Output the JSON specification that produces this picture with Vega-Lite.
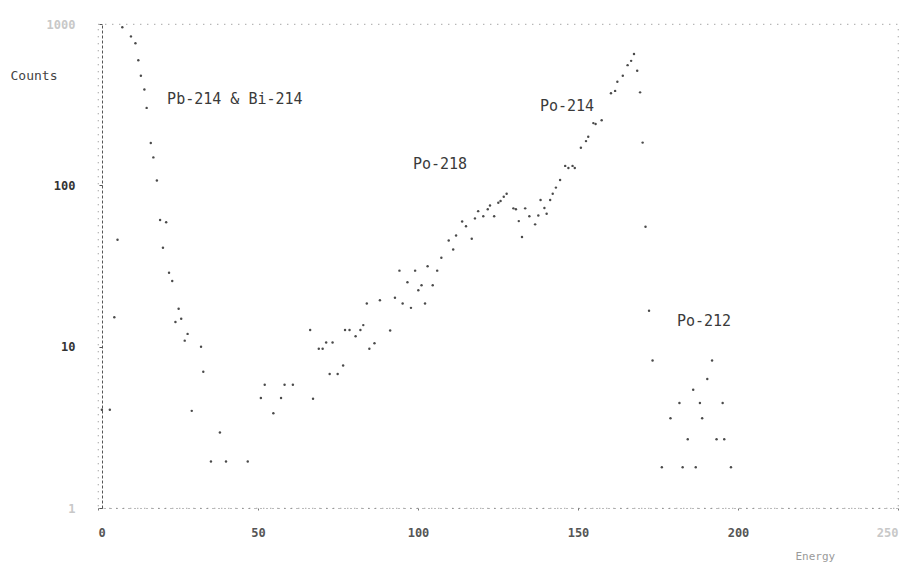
{
  "$schema": "https://vega.github.io/schema/vega-lite/v6.json",
  "width": 800,
  "height": 484,
  "autosize": {"type": "none"},
  "padding": {"left": 98, "top": 24, "right": 8, "bottom": 58},
  "background": "white",
  "config": {
    "view": {"stroke": "#9a9a9a", "strokeDash": [1, 6], "strokeWidth": 1.2},
    "font": "DejaVu Sans Mono"
  },
  "layer": [
    {
      "data": {
        "values": [
          {"energy": 7.6, "counts": 955}, {"energy": 10.3, "counts": 838}, {"energy": 11.7, "counts": 759},
          {"energy": 12.6, "counts": 596}, {"energy": 13.4, "counts": 478}, {"energy": 14.5, "counts": 393},
          {"energy": 15.2, "counts": 302}, {"energy": 16.5, "counts": 183}, {"energy": 17.3, "counts": 149},
          {"energy": 18.4, "counts": 107}, {"energy": 19.4, "counts": 61}, {"energy": 21.3, "counts": 59},
          {"energy": 20.3, "counts": 41}, {"energy": 22.2, "counts": 28.7}, {"energy": 23.2, "counts": 25.5},
          {"energy": 25.2, "counts": 17.2}, {"energy": 26.0, "counts": 14.9}, {"energy": 24.2, "counts": 14.2},
          {"energy": 28.0, "counts": 12.0}, {"energy": 27.1, "counts": 10.9}, {"energy": 32.2, "counts": 10},
          {"energy": 32.9, "counts": 7.0}, {"energy": 29.3, "counts": 4.0}, {"energy": 38.1, "counts": 2.94},
          {"energy": 35.3, "counts": 1.94}, {"energy": 40.0, "counts": 1.94}, {"energy": 46.8, "counts": 1.94},
          {"energy": 6.1, "counts": 46}, {"energy": 5.1, "counts": 15.2}, {"energy": 1.2, "counts": 4.06},
          {"energy": 3.7, "counts": 4.06},
          {"energy": 52.1, "counts": 5.8}, {"energy": 58.3, "counts": 5.8}, {"energy": 60.9, "counts": 5.8},
          {"energy": 50.9, "counts": 4.8}, {"energy": 57.2, "counts": 4.8}, {"energy": 54.8, "counts": 3.87},
          {"energy": 67.2, "counts": 4.75},
          {"energy": 66.3, "counts": 12.7}, {"energy": 77.2, "counts": 12.7}, {"energy": 78.6, "counts": 12.7},
          {"energy": 82.9, "counts": 13.6}, {"energy": 82.0, "counts": 12.7}, {"energy": 84.0, "counts": 18.5},
          {"energy": 80.5, "counts": 11.6}, {"energy": 71.3, "counts": 10.6}, {"energy": 73.3, "counts": 10.6},
          {"energy": 69.0, "counts": 9.7}, {"energy": 70.2, "counts": 9.7}, {"energy": 86.4, "counts": 10.5},
          {"energy": 84.8, "counts": 9.7}, {"energy": 76.6, "counts": 7.65}, {"energy": 72.4, "counts": 6.77},
          {"energy": 74.9, "counts": 6.77}, {"energy": 91.3, "counts": 12.6},
          {"energy": 88.1, "counts": 19.4}, {"energy": 92.8, "counts": 20.1}, {"energy": 95.2, "counts": 18.5},
          {"energy": 97.8, "counts": 17.4}, {"energy": 102.2, "counts": 18.5}, {"energy": 94.2, "counts": 29.6},
          {"energy": 99.1, "counts": 29.6}, {"energy": 106.0, "counts": 29.6}, {"energy": 103.0, "counts": 31.5},
          {"energy": 96.7, "counts": 25.1}, {"energy": 101.1, "counts": 24}, {"energy": 100.1, "counts": 22.4},
          {"energy": 104.6, "counts": 24}, {"energy": 107.3, "counts": 35.6}, {"energy": 109.6, "counts": 45.5},
          {"energy": 111.0, "counts": 40}, {"energy": 111.9, "counts": 48.9}, {"energy": 116.8, "counts": 46.7},
          {"energy": 113.8, "counts": 59.7}, {"energy": 115.0, "counts": 55.8}, {"energy": 117.8, "counts": 62.4},
          {"energy": 118.8, "counts": 69.2}, {"energy": 120.4, "counts": 64.4}, {"energy": 121.8, "counts": 71},
          {"energy": 122.5, "counts": 75}, {"energy": 123.8, "counts": 64.4}, {"energy": 125.1, "counts": 78},
          {"energy": 125.8, "counts": 80}, {"energy": 126.8, "counts": 85}, {"energy": 127.7, "counts": 88.8},
          {"energy": 129.8, "counts": 72}, {"energy": 130.6, "counts": 71}, {"energy": 133.5, "counts": 72},
          {"energy": 131.5, "counts": 60}, {"energy": 132.5, "counts": 47.8}, {"energy": 134.8, "counts": 64.4},
          {"energy": 136.6, "counts": 57.3}, {"energy": 137.6, "counts": 65.1}, {"energy": 138.3, "counts": 81},
          {"energy": 139.5, "counts": 72.3}, {"energy": 140.2, "counts": 66.7}, {"energy": 141.3, "counts": 81},
          {"energy": 142.1, "counts": 88.8}, {"energy": 143.1, "counts": 96.8}, {"energy": 144.4, "counts": 108},
          {"energy": 146.0, "counts": 132}, {"energy": 147.0, "counts": 128}, {"energy": 148.3, "counts": 132},
          {"energy": 149.0, "counts": 128}, {"energy": 150.9, "counts": 171}, {"energy": 152.5, "counts": 188},
          {"energy": 153.2, "counts": 200}, {"energy": 154.8, "counts": 243}, {"energy": 155.5, "counts": 240},
          {"energy": 157.4, "counts": 253}, {"energy": 160.3, "counts": 372}, {"energy": 161.6, "counts": 385},
          {"energy": 162.3, "counts": 438}, {"energy": 164.0, "counts": 478}, {"energy": 165.5, "counts": 556},
          {"energy": 166.6, "counts": 591}, {"energy": 167.5, "counts": 652}, {"energy": 168.5, "counts": 513},
          {"energy": 169.4, "counts": 377}, {"energy": 170.2, "counts": 184}, {"energy": 171.1, "counts": 55.4},
          {"energy": 172.2, "counts": 16.7}, {"energy": 173.3, "counts": 8.2},
          {"energy": 191.9, "counts": 8.2}, {"energy": 190.4, "counts": 6.3}, {"energy": 186.0, "counts": 5.4},
          {"energy": 181.7, "counts": 4.47}, {"energy": 188.1, "counts": 4.47}, {"energy": 195.2, "counts": 4.47},
          {"energy": 178.9, "counts": 3.6}, {"energy": 188.8, "counts": 3.6}, {"energy": 184.3, "counts": 2.67},
          {"energy": 193.3, "counts": 2.67}, {"energy": 195.7, "counts": 2.67}, {"energy": 176.2, "counts": 1.79},
          {"energy": 182.7, "counts": 1.79}, {"energy": 186.8, "counts": 1.79}, {"energy": 197.8, "counts": 1.79}
        ]
      },
      "mark": {"type": "point", "filled": true, "size": 6, "color": "#2a2a2a", "opacity": 0.85},
      "encoding": {
        "x": {
          "field": "energy", "type": "quantitative",
          "scale": {"domain": [0, 250], "nice": false, "zero": false},
          "axis": {
            "values": [0, 50, 100, 150, 200, 250],
            "format": "d",
            "title": "Energy",
            "titleX": 697, "titleY": 48, "titleAlign": "left", "titleBaseline": "middle",
            "titleFontSize": 11, "titleFontWeight": "normal", "titleColor": "#9a9a9a",
            "labelFontSize": 12, "labelFontWeight": "bold",
            "labelColor": {"condition": {"test": "datum.value >= 250", "value": "#c8c8c8"}, "value": "#555"},
            "labelPadding": 17, "tickSize": 2, "tickColor": "#777",
            "domainColor": "#777", "domainDash": [1, 5], "grid": false
          }
        },
        "y": {
          "field": "counts", "type": "quantitative",
          "scale": {"type": "log", "domain": [1, 1000], "nice": false},
          "axis": {
            "values": [1, 10, 100, 1000],
            "format": "d",
            "title": "Counts",
            "titleAngle": 0, "titleX": -92, "titleY": 51, "titleAlign": "left", "titleBaseline": "middle",
            "titleFontSize": 13, "titleFontWeight": "normal", "titleColor": "#444",
            "labelFontSize": 12, "labelFontWeight": "bold",
            "labelColor": {"condition": {"test": "datum.value <= 1 || datum.value >= 1000", "value": "#c8c8c8"}, "value": "#333"},
            "labelPadding": 24, "tickSize": 3, "tickColor": "#555",
            "offset": -4, "domainColor": "#555", "domainDash": [3, 2], "grid": false
          }
        }
      }
    },
    {
      "data": {
        "values": [
          {"energy": 21.6, "counts": 342, "label": "Pb-214 & Bi-214"},
          {"energy": 98.4, "counts": 135, "label": "Po-218"},
          {"energy": 138.1, "counts": 310, "label": "Po-214"},
          {"energy": 180.9, "counts": 14.5, "label": "Po-212"}
        ]
      },
      "mark": {"type": "text", "align": "left", "baseline": "middle", "font": "DejaVu Sans Mono", "fontSize": 15, "color": "#3a3a3a"},
      "encoding": {
        "x": {"field": "energy", "type": "quantitative"},
        "y": {"field": "counts", "type": "quantitative"},
        "text": {"field": "label"}
      }
    }
  ]
}
